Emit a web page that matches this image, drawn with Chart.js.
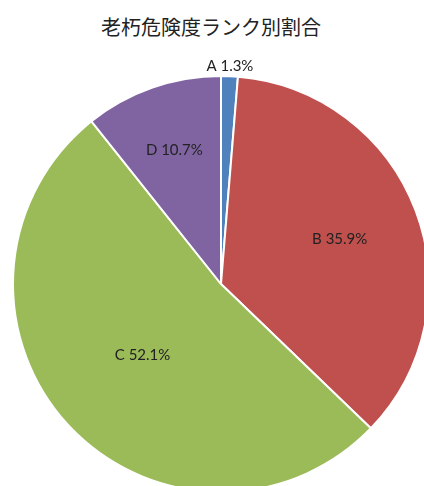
<!DOCTYPE html>
<html lang="ja">
<head>
    <meta charset="UTF-8">
    <title>老朽危険度ランク別割合</title>
    <script src="https://cdn.jsdelivr.net/npm/chart.js"></script>
    <style>
        body { margin: 0; background: #fff; overflow: hidden; }
        #title {
            position: absolute; left: 0; top: 16px; width: 422px;
            text-align: center; font: 20px "Noto Sans CJK JP", sans-serif;
            line-height: 22px; color: #222;
        }
        #wrap { position: absolute; left: 0; top: 0; width: 460px; height: 500px; }
    </style>
</head>
<body>
    <div id="title">老朽危険度ランク別割合</div>
    <div id="wrap"><canvas id="pieChart"></canvas></div>
    <script>
        const ranks = ['A', 'B', 'C', 'D'];
        const shares = [1.3, 35.9, 52.1, 10.7];
        const sliceColors = ['#4F81BD', '#C0504D', '#9BBB59', '#8064A2'];
        // where each label sits, as a fraction of the radius
        const labelRadius = [1.05, 0.61, 0.51, 0.68];

        const sliceLabels = {
            id: 'sliceLabels',
            afterDatasetsDraw(chart) {
                const ctx = chart.ctx;
                const arcs = chart.getDatasetMeta(0).data;
                ctx.save();
                ctx.font = '15px Lato, sans-serif';
                ctx.fillStyle = '#222';
                ctx.textAlign = 'center';
                ctx.textBaseline = 'middle';
                arcs.forEach((arc, i) => {
                    const p = arc.getProps(['x', 'y', 'startAngle', 'endAngle', 'outerRadius'], true);
                    const mid = (p.startAngle + p.endAngle) / 2;
                    const r = p.outerRadius * labelRadius[i];
                    const x = p.x + Math.cos(mid) * r;
                    const y = p.y + Math.sin(mid) * r;
                    ctx.fillText(ranks[i] + ' ' + shares[i].toFixed(1) + '%', x, y);
                });
                ctx.restore();
            }
        };

        new Chart(document.getElementById('pieChart'), {
            type: 'pie',
            data: {
                labels: ranks,
                datasets: [{
                    data: shares,
                    backgroundColor: sliceColors,
                    borderColor: '#fff',
                    borderWidth: 2,
                    radius: 208
                }]
            },
            options: {
                responsive: true,
                maintainAspectRatio: false,
                animation: false,
                layout: { padding: { left: 0, right: 18, top: 70, bottom: 2 } },
                plugins: {
                    legend: { display: false },
                    tooltip: { enabled: false }
                }
            },
            plugins: [sliceLabels]
        });
    </script>
</body>
</html>
